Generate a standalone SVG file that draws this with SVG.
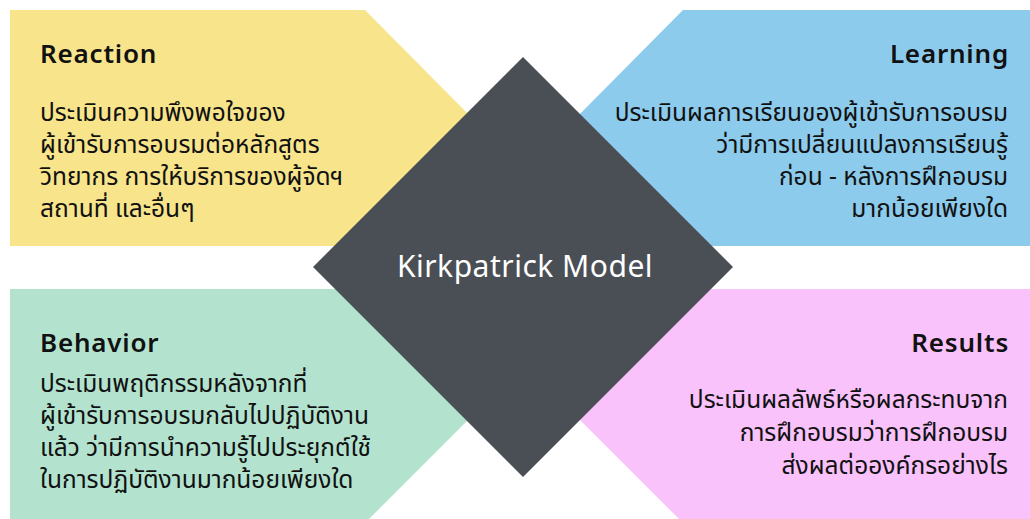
<svg xmlns="http://www.w3.org/2000/svg" width="1030" height="519" viewBox="0 0 1030 519">
<style>
.title{font-family:"Noto Sans","Liberation Sans",sans-serif;font-size:26px;font-weight:600;letter-spacing:0.8px;fill:#111}
.body{font-family:"Noto Sans Thai","Noto Sans","DejaVu Sans","Liberation Sans",sans-serif;font-size:24.5px;fill:#111}
.r{text-anchor:end}
.center{font-family:"Noto Sans","Liberation Sans",sans-serif;font-size:30px;letter-spacing:0.5px;fill:#fff;text-anchor:middle}
</style>
<rect width="1030" height="519" fill="#fff"/>
<g id="reaction">
<polygon points="10,10 365,10 482,128 365,246 10,246" fill="#F7E48B"/>
<text class="title" x="40" y="63">Reaction</text>
<text class="body" x="40" y="121">ประเมินความพึงพอใจของ</text>
<text class="body" x="40" y="153">ผู้เข้ารับการอบรมต่อหลักสูตร</text>
<text class="body" x="40" y="185">วิทยากร การให้บริการของผู้จัดฯ</text>
<text class="body" x="40" y="217">สถานที่ และอื่นๆ</text>
</g>
<g id="learning">
<polygon points="683,10 1030,10 1030,246 683,246 566,128" fill="#8CCBEC"/>
<text class="title r" x="1009" y="63">Learning</text>
<text class="body r" x="1008" y="121">ประเมินผลการเรียนของผู้เข้ารับการอบรม</text>
<text class="body r" x="1008" y="153">ว่ามีการเปลี่ยนแปลงการเรียนรู้ </text>
<text class="body r" x="1008" y="185">ก่อน - หลังการฝึกอบรม </text>
<text class="body r" x="1008" y="217">มากน้อยเพียงใด</text>
</g>
<g id="behavior">
<polygon points="10,289 365,289 482,406 365,523 10,523" fill="#B3E3CF"/>
<text class="title" x="40" y="352">Behavior</text>
<text class="body" x="40" y="392">ประเมินพฤติกรรมหลังจากที่</text>
<text class="body" x="40" y="424">ผู้เข้ารับการอบรมกลับไปปฏิบัติงาน</text>
<text class="body" x="40" y="456">แล้ว ว่ามีการนำความรู้ไปประยุกต์ใช้</text>
<text class="body" x="40" y="488">ในการปฏิบัติงานมากน้อยเพียงใด</text>
</g>
<g id="results">
<polygon points="683,289 1030,289 1030,523 683,523 566,406" fill="#F9C2FB"/>
<text class="title r" x="1009" y="352">Results</text>
<text class="body r" x="1008" y="408">ประเมินผลลัพธ์หรือผลกระทบจาก</text>
<text class="body r" x="1008" y="441">การฝึกอบรมว่าการฝึกอบรม</text>
<text class="body r" x="1008" y="474">ส่งผลต่อองค์กรอย่างไร</text>
</g>
<g id="center">
<polygon points="523,57 733,267 523,477 313,267" fill="#4A4F55"/>
<text class="center" x="525" y="277">Kirkpatrick Model</text>
</g>
<g id="connectors"/>
</svg>
